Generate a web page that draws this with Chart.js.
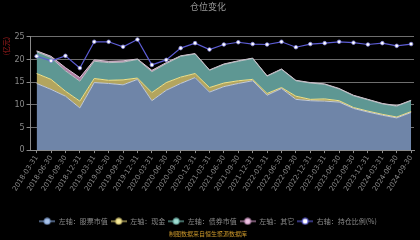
<!DOCTYPE html>
<html>
<head>
<meta charset="utf-8">
<script src="https://cdn.jsdelivr.net/npm/chart.js@4"></script>
<style>
  html, body { margin: 0; padding: 0; background: #000; }
  #wrap { width: 420px; height: 240px; position: relative; }
</style>
</head>
<body>
<div id="wrap"><canvas id="posChart"></canvas></div>
<script>
// quarterly report dates
const dates = [
  '2018-03-31','2018-06-30','2018-09-30','2018-12-31',
  '2019-03-31','2019-06-30','2019-09-30','2019-12-31',
  '2020-03-31','2020-06-30','2020-09-30','2020-12-31',
  '2021-03-31','2021-06-30','2021-09-30','2021-12-31',
  '2022-03-31','2022-06-30','2022-09-30','2022-12-31',
  '2023-03-31','2023-06-30','2023-09-30','2023-12-31',
  '2024-03-31','2024-06-30','2024-09-30'
];
// left axis, 亿元 (stacked)
const stockValue = [14.7,13.4,11.9,9.3,14.9,14.7,14.4,15.6,10.9,13.2,14.7,16.0,12.8,14.0,14.7,15.3,12.1,13.6,11.2,10.9,10.8,10.6,9.2,8.4,7.7,7.1,8.3];
const cashValue  = [2.2,2.2,1.1,1.5,0.9,0.7,1.1,0.3,1.8,1.7,1.4,0.9,1.0,0.8,0.6,0.3,0.4,0.2,0.7,0.3,0.5,0.3,0.2,0.2,0.2,0.2,0.2];
const bondValue  = [4.8,4.8,4.5,4.4,3.8,3.9,3.9,4.1,4.6,4.2,4.6,4.3,3.8,4.1,4.3,4.6,3.8,4.0,3.4,3.6,3.2,2.6,2.6,2.5,2.3,2.4,2.4];
const otherValue = [0.2,0.3,0.7,0.8,0.3,0.3,0.3,0.1,0.3,0.2,0.1,0.1,0.1,0.1,0.1,0.1,0.1,0.1,0.1,0.1,0.1,0.1,0.1,0.1,0.1,0.1,0.1];
// right axis, holding ratio (%)
const holdRatio  = [20.7,19.7,20.8,18.1,23.9,23.9,22.8,24.4,18.8,19.9,22.5,23.6,22.2,23.3,23.8,23.4,23.3,23.9,22.7,23.4,23.6,23.9,23.7,23.3,23.6,23.0,23.4];
const yTicks = [0, 5, 10, 15, 20, 25];

const GRID = 'rgba(200,200,200,0.55)';
const TXT = '#8a8a8a';

function pts(arr) { return arr.map((v, i) => ({ x: i, y: v })); }

// little "-o-" marker for legend entries
function legendMark(fill, line) {
  const c = document.createElement('canvas');
  c.width = 16; c.height = 8;
  const g = c.getContext('2d');
  g.strokeStyle = line; g.lineWidth = 1.2;
  g.beginPath(); g.moveTo(0, 4); g.lineTo(16, 4); g.stroke();
  g.fillStyle = fill; g.strokeStyle = line;
  g.beginPath(); g.arc(8, 4, 3, 0, Math.PI * 2); g.fill(); g.stroke();
  return c;
}
const marks = [
  legendMark('#a9c3ea', '#7f9ccc'),
  legendMark('#f6ea98', '#cfc070'),
  legendMark('#9fdcd2', '#6fb0a6'),
  legendMark('#ecc2e2', '#c08eb6'),
  legendMark('#ffffff', '#5a5ad0')
];

function area(label, data, bg, border, fill) {
  return {
    label, data: pts(data), yAxisID: 'y', fill,
    backgroundColor: bg, borderColor: border, borderWidth: 1,
    pointRadius: 0, tension: 0
  };
}

const ctx = document.getElementById('posChart').getContext('2d');
new Chart(ctx, {
  type: 'line',
  data: {
    datasets: [
      area('左轴：股票市值', stockValue, '#6f85a8', '#c4ccda', 'origin'),
      area('左轴：现金', cashValue, '#b3a55e', '#efe38c', '-1'),
      area('左轴：债券市值', bondValue, '#5e9793', '#b9c2c4', '-1'),
      area('左轴：其它', otherValue, '#b07ea4', '#d8c4d4', '-1'),
      {
        label: '右轴：持仓比例(%)', data: pts(holdRatio), yAxisID: 'y1', fill: false,
        borderColor: '#5c5cd4', borderWidth: 1.2, backgroundColor: '#ffffff',
        pointRadius: 1.8, pointBorderWidth: 0.8, pointBorderColor: '#8a8ae0',
        pointBackgroundColor: '#ffffff', order: -1
      }
    ]
  },
  options: {
    responsive: true, maintainAspectRatio: false, animation: false,
    layout: { padding: { left: 2, right: 6, top: 0, bottom: 0 } },
    scales: {
      x: {
        type: 'linear', min: -0.42, max: 26.2,
        afterBuildTicks: s => { s.ticks = dates.map((_, i) => ({ value: i })); },
        afterFit: s => { s.height += 21; },
        grid: { drawOnChartArea: false, drawTicks: true, tickLength: 3, color: TXT },
        border: { display: true, color: TXT },
        ticks: {
          autoSkip: false, minRotation: 57, maxRotation: 57, padding: 1,
          color: TXT, font: { size: 7, family: 'DejaVu Sans' },
          callback: v => dates[v]
        }
      },
      y: {
        stacked: true, min: 0, max: 25,
        afterBuildTicks: s => { s.ticks = yTicks.map(v => ({ value: v })); },
        grid: { color: GRID, lineWidth: 1, tickLength: 4, tickColor: TXT },
        border: { display: true, color: TXT },
        ticks: { color: TXT, padding: 2, font: { size: 8, family: 'DejaVu Sans' } },
        title: {
          display: true, text: '(亿元)', align: 'end', color: '#b02020',
          padding: { top: 0, bottom: 2 }, font: { size: 7, family: 'Noto Sans CJK SC' }
        }
      },
      y1: { display: false, stacked: false, min: 0, max: 25, position: 'right' }
    },
    plugins: {
      title: {
        display: true, text: '仓位变化', color: '#9a9a9a',
        padding: { top: 1, bottom: 25 }, font: { size: 9, weight: 'normal', family: 'Noto Sans CJK SC' }
      },
      subtitle: {
        display: true, position: 'bottom', text: '制图数据来自恒生聚源数据库', color: '#c9962a',
        padding: { top: -5, bottom: 3 }, font: { size: 6, family: 'Noto Sans CJK SC' }
      },
      legend: {
        position: 'bottom',
        labels: {
          color: TXT, usePointStyle: true, pointStyleWidth: 16, boxHeight: 8, padding: 3,
          font: { size: 7, family: 'Noto Sans CJK SC' },
          sort: (a, b) => a.datasetIndex - b.datasetIndex,
          generateLabels: chart => {
            const items = Chart.defaults.plugins.legend.labels.generateLabels(chart);
            items.forEach(it => { it.pointStyle = marks[it.datasetIndex]; });
            return items;
          }
        }
      },
      tooltip: { enabled: false }
    }
  }
});
</script>
</body>
</html>
